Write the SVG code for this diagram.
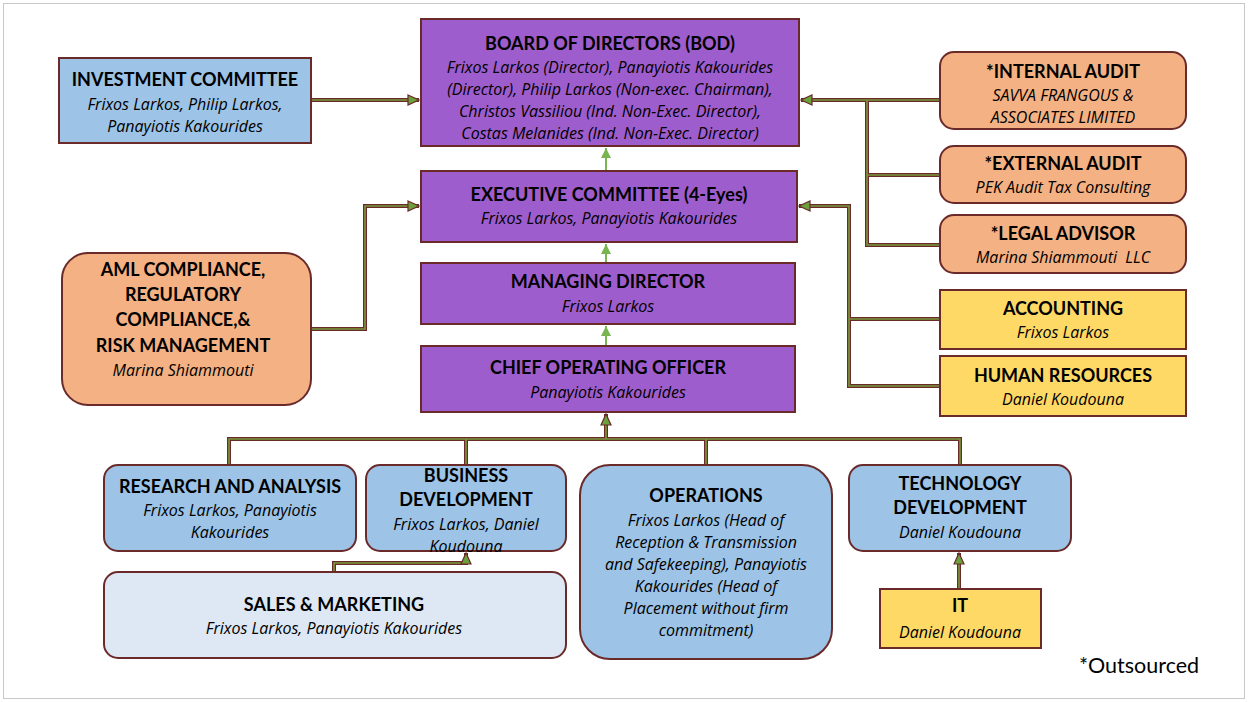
<svg xmlns="http://www.w3.org/2000/svg" width="1248" height="702" viewBox="0 0 1248 702">
<style>
text{font-family:Lato,"Open Sans","Liberation Sans",sans-serif;fill:#000;text-anchor:middle}
.t{font-weight:bold;font-size:18px}
.s{font-family:"Open Sans",Lato,"Liberation Sans",sans-serif;font-style:italic;font-size:16px}
.b{stroke:#6b2a2a;stroke-width:2}
.pu{fill:#9e5dcc}
.lb{fill:#9dc3e6}
.or{fill:#f4b183}
.ye{fill:#ffd966}
.pl{fill:#dee8f4}
.co{fill:none;stroke:#6b2a2a;stroke-width:4}
.ci{fill:none;stroke:#7a9a3c;stroke-width:1.6}
.gr{fill:none;stroke:#78b450;stroke-width:2}
</style>
<defs>
<marker id="ah" markerUnits="userSpaceOnUse" markerWidth="14" markerHeight="12" refX="12" refY="6" orient="auto">
<path d="M1,1 L12,6 L1,11 Z" fill="#6aa13a" stroke="#6b2a2a" stroke-width="1.2"/>
</marker>
<marker id="ag" markerUnits="userSpaceOnUse" markerWidth="12" markerHeight="12" refX="10" refY="6" orient="auto">
<path d="M0,1 L10,6 L0,11 Z" fill="#78b450"/>
</marker>
</defs>
<rect x="3.5" y="3.5" width="1241" height="695" fill="#fff" stroke="#c8c8c8" stroke-width="1"/>

<g id="connectors">
<path class="co" d="M311,100 H419"/>
<path class="ci" d="M311,100 H419" marker-end="url(#ah)"/>
<path class="co" d="M940,100 H801 M867,100 V245 H940 M867,175 H940"/>
<path class="ci" d="M867,100 V245 H940 M867,175 H940"/>
<path class="ci" d="M940,100 H801" marker-end="url(#ah)"/>
<path class="co" d="M940,319 H849 M940,386 H849 V206 H799"/>
<path class="ci" d="M940,319 H849"/>
<path class="ci" d="M940,386 H849 V206 H799" marker-end="url(#ah)"/>
<path class="co" d="M311,329 H365 V206 H419"/>
<path class="ci" d="M311,329 H365 V206 H419" marker-end="url(#ah)"/>
<path class="co" d="M229,465 V439 H960 V465 M466,439 V465 M706,439 V465 M606,439 V414"/>
<path class="ci" d="M229,465 V439 H960 V465 M466,439 V465 M706,439 V465"/>
<path class="ci" d="M606,439 V414" marker-end="url(#ah)"/>
<path class="co" d="M334,572 V563 H466 V553"/>
<path class="ci" d="M334,572 V563 H466 V553" marker-end="url(#ah)"/>
<path class="co" d="M959,589 V553"/>
<path class="ci" d="M959,589 V553" marker-end="url(#ah)"/>
<path class="gr" d="M606,171 V148" marker-end="url(#ag)"/>
<path class="gr" d="M606,263 V244" marker-end="url(#ag)"/>
<path class="gr" d="M606,346 V326" marker-end="url(#ag)"/>
</g>

<g id="bod">
<rect class="b pu" x="421" y="19" width="378" height="127"/>
<text class="t" x="610" y="50">BOARD OF DIRECTORS (BOD)</text>
<text class="s" x="610" y="73">Frixos Larkos (Director), Panayiotis Kakourides</text>
<text class="s" x="610" y="95">(Director), Philip Larkos (Non-exec. Chairman),</text>
<text class="s" x="610" y="117">Christos Vassiliou (Ind. Non-Exec. Director),</text>
<text class="s" x="610" y="139">Costas Melanides (Ind. Non-Exec. Director)</text>
</g>
<g id="investment">
<rect class="b lb" x="59" y="58" width="252" height="85"/>
<text class="t" x="185" y="86">INVESTMENT COMMITTEE</text>
<text class="s" x="185" y="110">Frixos Larkos, Philip Larkos,</text>
<text class="s" x="185" y="132">Panayiotis Kakourides</text>
</g>
<g id="internal-audit">
<rect class="b or" x="940" y="52" width="246" height="77" rx="14"/>
<text class="t" x="1063" y="78">*INTERNAL AUDIT</text>
<text class="s" x="1063" y="101">SAVVA FRANGOUS &amp;</text>
<text class="s" x="1063" y="123">ASSOCIATES LIMITED</text>
</g>
<g id="external-audit">
<rect class="b or" x="940" y="146" width="246" height="57" rx="14"/>
<text class="t" x="1063" y="170">*EXTERNAL AUDIT</text>
<text class="s" x="1063" y="193">PEK Audit Tax Consulting</text>
</g>
<g id="legal-advisor">
<rect class="b or" x="940" y="215" width="246" height="58" rx="14"/>
<text class="t" x="1063" y="240">*LEGAL ADVISOR</text>
<text class="s" x="1063" y="263" style="white-space:pre">Marina Shiammouti  LLC</text>
</g>
<g id="accounting">
<rect class="b ye" x="940" y="290" width="246" height="59"/>
<text class="t" x="1063" y="315">ACCOUNTING</text>
<text class="s" x="1063" y="338">Frixos Larkos</text>
</g>
<g id="hr">
<rect class="b ye" x="940" y="356" width="246" height="60"/>
<text class="t" x="1063" y="382">HUMAN RESOURCES</text>
<text class="s" x="1063" y="405">Daniel Koudouna</text>
</g>
<g id="exec">
<rect class="b pu" x="421" y="171" width="376" height="71"/>
<text class="t" x="609" y="201">EXECUTIVE COMMITTEE (4-Eyes)</text>
<text class="s" x="609" y="224">Frixos Larkos, Panayiotis Kakourides</text>
</g>
<g id="md">
<rect class="b pu" x="421" y="263" width="374" height="61"/>
<text class="t" x="608" y="288">MANAGING DIRECTOR</text>
<text class="s" x="608" y="312">Frixos Larkos</text>
</g>
<g id="coo">
<rect class="b pu" x="421" y="346" width="374" height="66"/>
<text class="t" x="608" y="374">CHIEF OPERATING OFFICER</text>
<text class="s" x="608" y="398">Panayiotis Kakourides</text>
</g>
<g id="aml">
<rect class="b or" x="62" y="253" width="249" height="152" rx="26"/>
<text class="t" x="183" y="276">AML COMPLIANCE,</text>
<text class="t" x="183" y="301">REGULATORY</text>
<text class="t" x="183" y="326">COMPLIANCE,&amp;</text>
<text class="t" x="183" y="352">RISK MANAGEMENT</text>
<text class="s" x="183" y="376">Marina Shiammouti</text>
</g>
<g id="research">
<rect class="b lb" x="104" y="465" width="252" height="86" rx="14"/>
<text class="t" x="230" y="493">RESEARCH AND ANALYSIS</text>
<text class="s" x="230" y="516">Frixos Larkos, Panayiotis</text>
<text class="s" x="230" y="538">Kakourides</text>
</g>
<g id="bizdev">
<rect class="b lb" x="366" y="465" width="200" height="86" rx="14"/>
<text class="t" x="466" y="482">BUSINESS</text>
<text class="t" x="466" y="506">DEVELOPMENT</text>
<text class="s" x="466" y="530">Frixos Larkos, Daniel</text>
<text class="s" x="466" y="552">Koudouna</text>
</g>
<g id="operations">
<rect class="b lb" x="580" y="465" width="252" height="194" rx="30"/>
<text class="t" x="706" y="502">OPERATIONS</text>
<text class="s" x="706" y="526">Frixos Larkos (Head of</text>
<text class="s" x="706" y="548">Reception &amp; Transmission</text>
<text class="s" x="706" y="570">and Safekeeping), Panayiotis</text>
<text class="s" x="706" y="592">Kakourides (Head of</text>
<text class="s" x="706" y="614">Placement without firm</text>
<text class="s" x="706" y="636">commitment)</text>
</g>
<g id="techdev">
<rect class="b lb" x="849" y="465" width="222" height="86" rx="14"/>
<text class="t" x="960" y="490">TECHNOLOGY</text>
<text class="t" x="960" y="514">DEVELOPMENT</text>
<text class="s" x="960" y="538">Daniel Koudouna</text>
</g>
<g id="it">
<rect class="b ye" x="880" y="589" width="161" height="59"/>
<text class="t" x="960" y="612">IT</text>
<text class="s" x="960" y="638">Daniel Koudouna</text>
</g>
<g id="sales">
<rect class="b pl" x="104" y="572" width="462" height="86" rx="14"/>
<text class="t" x="334" y="611">SALES &amp; MARKETING</text>
<text class="s" x="334" y="634">Frixos Larkos, Panayiotis Kakourides</text>
</g>
<text x="1139" y="673" style="font-size:21.5px">*Outsourced</text>
</svg>
